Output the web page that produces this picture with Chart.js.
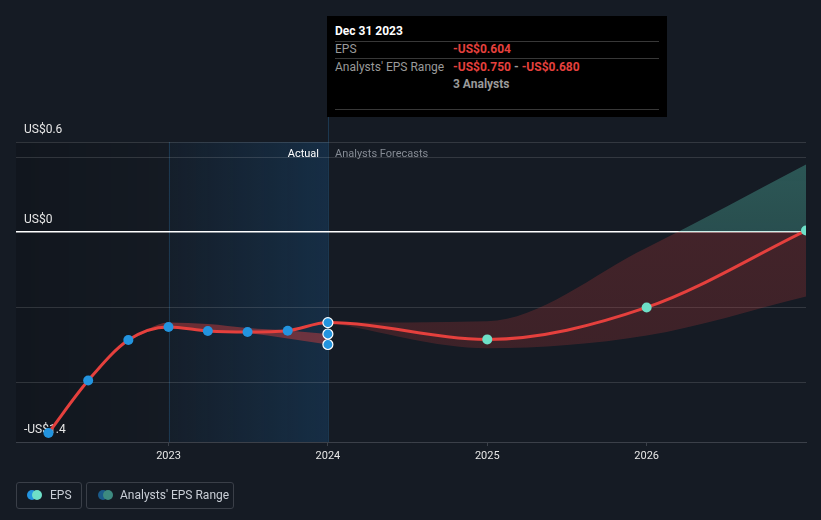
<!DOCTYPE html>
<html>
<head>
<meta charset="utf-8">
<script src="https://cdn.jsdelivr.net/npm/chart.js@4.4.1/dist/chart.umd.min.js"></script>
<style>
  html, body { margin: 0; padding: 0; background: #151b24; }
  #wrap { position: relative; width: 821px; height: 520px; overflow: hidden; font-family: Roboto, "Open Sans", sans-serif; }
  canvas { position: absolute; left: 0; top: 0; }
  .tip { position: absolute; left: 327px; top: 16px; width: 340px; height: 101px; background: #000; color: #fff; font-size: 12px; }
  .tip .t { position: absolute; left: 8px; top: 8px; font-weight: bold; color: #fff; font-size: 12px; }
  .tip .hr { position: absolute; left: 8px; width: 324px; height: 1px; background: #383838; }
  .tip .lbl { position: absolute; left: 8px; color: #9a9a9a; font-size: 12px; }
  .tip .val { position: absolute; left: 126px; color: #e5403d; font-size: 12px; font-weight: bold; }
  .tip .grey { color: #9a9a9a; }
  .lg { position: absolute; top: 482px; height: 27px; border: 1px solid #3a3f48; border-radius: 3px; box-sizing: border-box; color: #c9ced6; font-size: 12px; }
  .lg .c { position: absolute; top: 7px; width: 10px; height: 10px; border-radius: 50%; }
  .lg .tx { position: absolute; top: 5px; white-space: nowrap; }
  .note { position: absolute; top: 147px; font-size: 11px; white-space: nowrap; }
</style>
</head>
<body>
<div id="wrap">
  <canvas id="c" width="821" height="520"></canvas>
  <div class="note" style="right: 502px; color:#ffffff;">Actual</div>
  <div class="note" style="left: 335px; color:#858b94;">Analysts Forecasts</div>
  <div class="tip">
    <div class="t">Dec 31 2023</div>
    <div class="hr" style="top:25px"></div>
    <div class="lbl" style="top:26px">EPS</div>
    <div class="val" style="top:26px">-US$0.604</div>
    <div class="hr" style="top:42px"></div>
    <div class="lbl" style="top:44px">Analysts' EPS Range</div>
    <div class="val" style="top:44px">-US$0.750 <span class="grey">-</span> -US$0.680</div>
    <div class="val grey" style="top:61px">3 Analysts</div>
    <div class="hr" style="top:93px"></div>
  </div>
  <div class="lg" style="left:16px; width:66px;">
    <div class="c" style="left:10px; background:#2394df;"></div>
    <div class="c" style="left:15px; background:#6ee0c8;"></div>
    <div class="tx" style="left:33px;">EPS</div>
  </div>
  <div class="lg" style="left:86px; width:148px;">
    <div class="c" style="left:11px; background:#1b5b8a;"></div>
    <div class="c" style="left:16px; background:#3d8a80;"></div>
    <div class="tx" style="left:33px;">Analysts' EPS Range</div>
  </div>
</div>
<script>
// ---- data ----
const actualDates = ['2022-03-31','2022-06-30','2022-09-30','2022-12-31','2023-03-31','2023-06-30','2023-09-30','2023-12-31'];
const actualEPS   = [-1.34, -0.99, -0.72, -0.633, -0.66, -0.667, -0.658, -0.604];
const forecastDates = ['2024-12-31','2025-12-31','2026-12-31'];
const forecastEPS   = [-0.716, -0.503, 0.01];
const pastRangeDates = ['2022-09-30','2022-12-31','2023-03-31','2023-06-30','2023-09-30','2023-12-31'];
const pastRangeHigh  = [-0.72, -0.603, -0.614, -0.64, -0.656, -0.68];
const pastRangeLow   = [-0.72, -0.63, -0.657, -0.673, -0.71, -0.75];
const fcRangeDates = ['2023-12-31','2024-12-31','2025-12-31','2026-12-31'];
const fcRangeHigh  = [-0.604, -0.595, -0.105, 0.45];
const fcRangeLow   = [-0.604, -0.775, -0.69, -0.43];
const yTickValues = [-1.4, -1, -0.5, 0, 0.5, 0.6];
const yLabelled = {'0.6':'US$0.6', '0':'US$0', '-1.4':'-US$1.4'};
const xTickYears = [2023, 2024, 2025, 2026];

function toYear(s) {
  const d = new Date(s + 'T00:00:00Z');
  const y = d.getUTCFullYear();
  const start = Date.UTC(y, 0, 1), end = Date.UTC(y + 1, 0, 1);
  return y + (d.getTime() - start) / (end - start) + 1 / 365;
}
const pts = (dates, vals) => dates.map((d, i) => ({x: toYear(d), y: vals[i]}));

const epsDates = actualDates.concat(forecastDates);
const epsVals = actualEPS.concat(forecastEPS);
const nA = actualDates.length;
const ptBg = epsVals.map((v, i) => i < nA ? '#2394df' : '#6ee0c8');
const ptBorder = epsVals.map((v, i) => i === nA - 1 ? '#ffffff' : 'rgba(0,0,0,0)');
const ptBorderW = epsVals.map((v, i) => i === nA - 1 ? 1.2 : 0);

const RED = '#e5403d';
function fcFill(ctx) {
  const c = ctx.chart, a = c.chartArea;
  if (!a) return 'rgba(229,64,61,0.22)';
  const y0 = c.scales.y.getPixelForValue(0);
  const f = Math.min(1, Math.max(0, (y0 - a.top) / (a.bottom - a.top)));
  const g = c.ctx.createLinearGradient(0, a.top, 0, a.bottom);
  g.addColorStop(0, 'rgba(88,200,180,0.36)');
  g.addColorStop(f, 'rgba(88,200,180,0.30)');
  g.addColorStop(f, 'rgba(229,64,61,0.22)');
  g.addColorStop(1, 'rgba(229,64,61,0.18)');
  return g;
}

const regions = {
  id: 'regions',
  beforeDraw(chart) {
    const {ctx, chartArea: a, scales: {x}} = chart;
    const x23 = x.getPixelForValue(toYear('2022-12-31'));
    const x24 = x.getPixelForValue(toYear('2023-12-31'));
    ctx.save();
    let g = ctx.createLinearGradient(a.left, 0, x23, 0);
    g.addColorStop(0, 'rgba(0,0,0,0.16)');
    g.addColorStop(1, 'rgba(0,0,0,0.02)');
    ctx.fillStyle = g;
    ctx.fillRect(a.left, a.top, x23 - a.left, a.bottom - a.top);
    g = ctx.createLinearGradient(x23, 0, x24, 0);
    g.addColorStop(0, 'rgba(25,95,155,0.06)');
    g.addColorStop(1, 'rgba(25,95,155,0.28)');
    ctx.fillStyle = g;
    ctx.fillRect(x23, a.top, x24 - x23, a.bottom - a.top);
    ctx.strokeStyle = '#1c3850';
    ctx.lineWidth = 1;
    ctx.beginPath();
    ctx.moveTo(Math.round(x23) + 0.5, a.top); ctx.lineTo(Math.round(x23) + 0.5, a.bottom);
    ctx.moveTo(Math.round(x24) + 0.5, 117); ctx.lineTo(Math.round(x24) + 0.5, a.bottom);
    ctx.stroke();
    ctx.restore();
  }
};

new Chart(document.getElementById('c'), {
  type: 'line',
  data: {
    datasets: [
      { label: 'marks', data: pts(['2023-12-31','2023-12-31'], [pastRangeHigh[pastRangeHigh.length-1], pastRangeLow[pastRangeLow.length-1]]),
        showLine: false, pointRadius: 5, pointBackgroundColor: '#2394df', pointBorderColor: '#ffffff', pointBorderWidth: 1.2 },
      { label: 'EPS', data: pts(epsDates, epsVals), borderColor: RED, borderWidth: 3,
        cubicInterpolationMode: 'monotone', pointRadius: 5, pointBackgroundColor: ptBg,
        pointBorderColor: ptBorder, pointBorderWidth: ptBorderW, fill: false },
      { label: 'pastHigh', data: pts(pastRangeDates, pastRangeHigh), borderWidth: 0, pointRadius: 0,
        cubicInterpolationMode: 'monotone', fill: '+1', backgroundColor: 'rgba(229,64,61,0.42)' },
      { label: 'pastLow', data: pts(pastRangeDates, pastRangeLow), borderWidth: 0, pointRadius: 0,
        cubicInterpolationMode: 'monotone', fill: false },
      { label: 'fcHigh', data: pts(fcRangeDates, fcRangeHigh), borderWidth: 0, pointRadius: 0,
        cubicInterpolationMode: 'monotone', fill: '+1', backgroundColor: fcFill },
      { label: 'fcLow', data: pts(fcRangeDates, fcRangeLow), borderWidth: 0, pointRadius: 0,
        cubicInterpolationMode: 'monotone', fill: false }
    ]
  },
  options: {
    responsive: false,
    animation: false,
    devicePixelRatio: 1,
    layout: { padding: { left: 16, right: 15, top: 142, bottom: 48 } },
    plugins: { legend: { display: false }, tooltip: { enabled: false } },
    scales: {
      x: {
        type: 'linear', min: 2022.043, max: 2027.0,
        afterBuildTicks: s => { s.ticks = xTickYears.map(v => ({value: v})); },
        afterFit: s => { s.height = 30; },
        grid: { drawOnChartArea: false, color: '#3b4049', tickColor: '#3b4049', tickLength: 4 },
        border: { color: '#3b4049', width: 1 },
        ticks: { color: '#e6e6e6', font: { family: 'Roboto', size: 11 }, padding: 4, autoSkip: false, maxRotation: 0,
                 callback: v => String(v) }
      },
      y: {
        min: -1.4, max: 0.6,
        afterBuildTicks: s => { s.ticks = yTickValues.map(v => ({value: v})); },
        afterFit: s => { s.width = 0; },
        grid: { drawTicks: false, color: c => (c.tick && c.tick.value === 0) ? '#ffffff' : 'rgba(255,255,255,0.13)',
                lineWidth: c => (c.tick && c.tick.value === 0) ? 1.5 : 1 },
        border: { display: false },
        ticks: { mirror: true, padding: 8, labelOffset: -12, color: '#e6e6e6', autoSkip: false,
                 font: { family: 'Roboto', size: 12 },
                 callback: v => yLabelled[String(Math.round(v * 10) / 10)] || '' }
      }
    }
  },
  plugins: [regions]
});
</script>
</body>
</html>
